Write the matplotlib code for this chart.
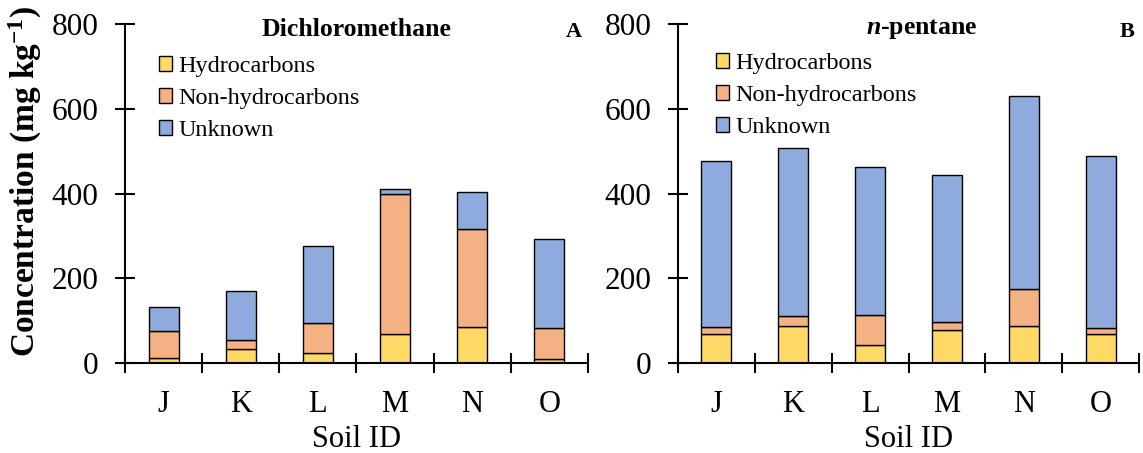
import matplotlib
matplotlib.use("Agg")
import matplotlib.pyplot as plt
import numpy as np
from matplotlib.ticker import FixedLocator

plt.rcParams['font.family'] = ['Liberation Serif', 'DejaVu Serif']
plt.rcParams['mathtext.fontset'] = 'custom'
plt.rcParams['mathtext.rm'] = 'Liberation Serif'
plt.rcParams['mathtext.bf'] = 'Liberation Serif:bold'
plt.rcParams['mathtext.it'] = 'Liberation Serif:italic:bold'

soils = ['J', 'K', 'L', 'M', 'N', 'O']
series_names = ['Hydrocarbons', 'Non-hydrocarbons', 'Unknown']

# Dichloromethane (panel A)
dcm_hydro = [12, 34, 25, 70, 86, 9]
dcm_nonhydro = [63, 22, 69, 328, 231, 74]
dcm_unknown = [58, 115, 182, 13, 86, 210]

# n-pentane (panel B)
pen_hydro = [69, 87, 43, 78, 89, 70]
pen_nonhydro = [16, 24, 72, 20, 86, 13]
pen_unknown = [393, 396, 347, 347, 455, 405]

yticks = [0, 200, 400, 600, 800]
colors = ['#FFD966', '#F4B183', '#8FAADC']

W, H = 1143, 453
fig = plt.figure(figsize=(W / 100, H / 100), dpi=100)
AX_H = 339.3

def px_axes(l, r, t, b):
    return fig.add_axes([l / W, 1 - b / H, (r - l) / W, (b - t) / H])

axA = px_axes(125, 588, 24, 363.3)
axB = px_axes(677.7, 1139.3, 24, 363.3)

def draw(ax, hydro, nonhydro, unknown, title, letter, legend_xy, title_x):
    x = np.arange(len(soils))
    bottom = np.zeros(len(soils))
    for vals, c, name in zip([hydro, nonhydro, unknown], colors, series_names):
        ax.bar(x, vals, width=0.39, bottom=bottom, color=c, edgecolor='black',
               linewidth=1.0, label=name, zorder=3)
        bottom = bottom + np.array(vals)
    ax.set_xlim(-0.5, len(soils) - 0.5)
    ax.set_ylim(0, 800)
    ax.set_yticks(yticks)
    ax.set_xticks(x)
    ax.set_xticklabels(soils)
    ax.xaxis.set_minor_locator(FixedLocator(np.arange(-0.5, len(soils), 1.0)))
    ax.tick_params(axis='x', which='major', length=0, pad=19, labelsize=22)
    ax.tick_params(axis='x', which='minor', direction='inout', length=14, width=1.5)
    ax.tick_params(axis='y', which='major', direction='inout', length=14, width=1.5,
                   pad=12, labelsize=22.5)
    for s in ['top', 'right']:
        ax.spines[s].set_visible(False)
    for s in ['left', 'bottom']:
        ax.spines[s].set_linewidth(1.5)
        ax.spines[s].set_zorder(4)
    ax.set_xlabel('Soil ID', fontsize=22, labelpad=4.5)
    ax.text(title_x, 1 - 5 / AX_H, title, transform=ax.transAxes, ha='center',
            va='center', fontsize=18.5, fontweight='bold')
    ax.text(letter[1], 1 - 8 / AX_H, letter[0], transform=ax.transAxes,
            ha='center', va='center', fontsize=16, fontweight='bold')
    ax.legend(loc='upper left', bbox_to_anchor=legend_xy, frameon=False,
              fontsize=17.5, handlelength=0.55, handleheight=0.55, handletextpad=0.25,
              labelspacing=0.45, borderaxespad=0, borderpad=0)

draw(axA, dcm_hydro, dcm_nonhydro, dcm_unknown, 'Dichloromethane',
     ('A', (574 - 125) / 463), ((159 - 125) / 463, 1 - 32 / AX_H), 0.5)
draw(axB, pen_hydro, pen_nonhydro, pen_unknown, r'$\mathit{n}$-pentane',
     ('B', (1127 - 677.7) / 461.6), ((716 - 677.7) / 461.6, 1 - 29 / AX_H),
     (922 - 677.7) / 461.6)

fig.text(25 / W, 1 - 181 / H, r'Concentration (mg kg$^{\mathbf{-1}}$)',
         rotation=90, ha='center', va='center', fontsize=24, fontweight='bold')

fig.savefig('out.png', dpi=100)
